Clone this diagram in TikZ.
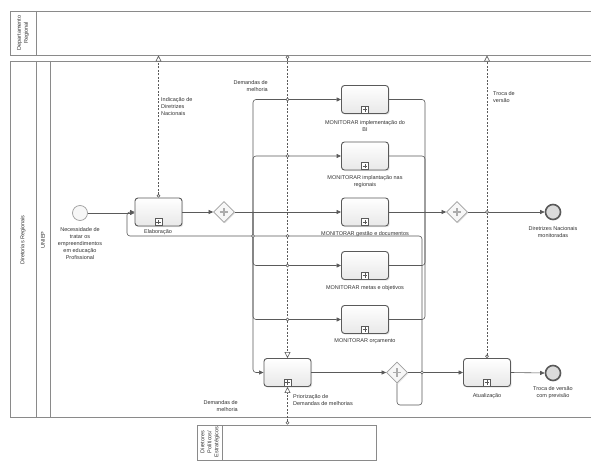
\documentclass[tikz,border=0pt]{standalone}
\usepackage{fontspec}
\setmainfont{Liberation Sans}
\usetikzlibrary{arrows.meta,shapes.geometric,shadows,calc}
\definecolor{ln}{HTML}{5A5A5A}
\definecolor{pl}{HTML}{8A8A8A}
\definecolor{tx}{HTML}{333333}
\begin{document}
\begin{tikzpicture}[x=1pt,y=-1pt,
  every node/.style={font=\fontsize{5.5}{7}\selectfont, text=tx},
  taskbox/.style={rectangle, rounded corners=3pt, draw=ln, line width=0.9pt, minimum width=47pt, minimum height=28pt, inner sep=0pt, top color=white, bottom color=gray!18, drop shadow={opacity=0.2,shadow xshift=1.2pt,shadow yshift=-1.2pt}},
  mk/.style={rectangle, draw=ln, line width=0.6pt, minimum size=7pt, inner sep=0pt, fill=white,
    path picture={\draw[line width=0.7pt,ln] ([xshift=-2.3pt]path picture bounding box.center) -- ([xshift=2.3pt]path picture bounding box.center);
                  \draw[line width=0.7pt,ln] ([yshift=-2.3pt]path picture bounding box.center) -- ([yshift=2.3pt]path picture bounding box.center);}},
  gw/.style={diamond, draw=gray!75, line width=0.7pt, fill=gray!6, minimum width=21pt, minimum height=21pt, inner sep=0pt, drop shadow={opacity=0.2,shadow xshift=1pt,shadow yshift=-1pt},
    path picture={\draw[line width=1.8pt,gray!65] ([xshift=-4.2pt]path picture bounding box.center) -- ([xshift=4.2pt]path picture bounding box.center);
                  \draw[line width=1.8pt,gray!65] ([yshift=-4.2pt]path picture bounding box.center) -- ([yshift=4.2pt]path picture bounding box.center);}},
  startev/.style={circle, draw=gray!75, line width=0.7pt, fill=gray!6, minimum size=15pt, inner sep=0pt},
  endev/.style={circle, draw=ln, line width=1.6pt, fill=gray!28, minimum size=15pt, inner sep=0pt, drop shadow={opacity=0.2,shadow xshift=1pt,shadow yshift=-1pt}},
  lbl/.style={align=center, inner sep=0pt},
  flow/.style={draw=ln, line width=0.6pt, rounded corners=3pt, -{Triangle[length=4.5pt,width=4pt]}},
  fl/.style={draw=ln, line width=0.6pt, rounded corners=3pt},
  msg/.style={draw=ln, line width=0.6pt, dash pattern=on 2pt off 1.5pt, {Circle[open,length=3.5pt,width=3.5pt]}-{Triangle[open,length=6pt,width=6pt]}},
  pool/.style={draw=pl, line width=0.8pt},
  hop/.style={circle, draw=ln, line width=0.4pt, fill=white, minimum size=3pt, inner sep=0pt}
]
\useasboundingbox[fill=white] (0,0) rectangle (591,462);

% pools
\draw[pool] (591,11) -- (10,11) -- (10,55) -- (591,55);
\draw[pool] (36,11) -- (36,55);
\draw[pool] (591,61) -- (10,61) -- (10,417) -- (591,417);
\draw[pool] (36,61) -- (36,417);
\draw[pool] (50,61) -- (50,417);
\draw[pool] (197,425) rectangle (376,460);
\draw[pool] (222,425) -- (222,460);

\node[lbl, rotate=90] (lp1) at (23,33) {Departamento\\Regional};
\node[lbl, rotate=90] (lp2) at (23,240) {Diretorias Regionais};
\node[lbl, rotate=90] (lp3) at (43,240) {UNIEP};
\node[lbl, rotate=90] (lp4) at (210,442) {Diretores\\Políticos/\\Estratégicos};

% events
\node[startev] (st) at (80,213) {};
\node[lbl, anchor=north] (stl) at (80,227) {Necessidade de\\tratar os\\empreendimentos\\em educação\\Profissional};
\node[endev] (e1) at (553,212) {};
\node[lbl] (e1l) at (553,232) {Diretrizes Nacionais\\monitoradas};
\node[endev] (e2) at (553,373) {};
\node[lbl] (e2l) at (553,393) {Troca de versão\\com previsão};

% tasks
\node[taskbox] (el) at (158.5,212) {};
\node[mk] (elm) at ($(el.south)+(0,-4.5)$) {};
\node[lbl] (ell) at (158,232) {Elaboração};

\node[taskbox] (t1) at (365,99.5) {};
\node[mk] (t1m) at ($(t1.south)+(0,-4.5)$) {};
\node[lbl] (t1l) at (365,126) {MONITORAR implementação do\\BI};

\node[taskbox] (t2) at (365,156) {};
\node[mk] (t2m) at ($(t2.south)+(0,-4.5)$) {};
\node[lbl] (t2l) at (365,182) {MONITORAR implantação nas\\regionais};

\node[taskbox] (t3) at (365,212) {};
\node[mk] (t3m) at ($(t3.south)+(0,-4.5)$) {};
\node[lbl] (t3l) at (365,234) {MONITORAR gestão e documentos};

\node[taskbox] (t4) at (365,265.5) {};
\node[mk] (t4m) at ($(t4.south)+(0,-4.5)$) {};
\node[lbl] (t4l) at (365,288) {MONITORAR metas e objetivos};

\node[taskbox] (t5) at (365,319.5) {};
\node[mk] (t5m) at ($(t5.south)+(0,-4.5)$) {};
\node[lbl] (t5l) at (365,341) {MONITORAR orçamento};

\node[taskbox] (pr) at (287.5,372.5) {};
\node[mk] (prm) at ($(pr.south)+(0,-4.5)$) {};
\node[lbl, align=left, anchor=west] (prl) at (293,400) {Priorização de\\Demandas de melhorias};

\node[taskbox] (at) at (487,372.5) {};
\node[mk] (atm) at ($(at.south)+(0,-4.5)$) {};
\node[lbl] (atl) at (487,396) {Atualização};

% gateways
\node[gw] (gw1) at (224,212) {};
\node[gw] (gwj) at (457,212) {};
\node[gw] (gw2) at (397,372.5) {};

% coordinates
\coordinate (br) at (253,212);
\coordinate (jn) at (425,212);
\coordinate (lpa) at (422,405);
\coordinate (lpb) at (422,236);
\coordinate (lpc) at (127,212);
\coordinate (tp1) at (158.5,55.5);
\coordinate (tp2) at (287.5,55.5);
\coordinate (tp3) at (487,55.5);
\coordinate (bp) at (287.5,424.5);

% sequence flows
\draw[flow] (st.east) -- (st.east -| el.west);
\draw[flow] (el.east) -- (gw1.west);
\draw[flow] (gw1.east) -- (t3.west);
\draw[flow] (br) |- (t1.west);
\draw[flow] (br) |- (t2.west);
\draw[flow] (br) |- (t4.west);
\draw[flow] (br) |- (t5.west);
\draw[flow] (br) |- (pr.west);
\draw[fl] (t1.east) -| (jn);
\draw[fl] (t2.east) -| (jn);
\draw[fl] (t4.east) -| (jn);
\draw[fl] (t5.east) -| (jn);
\draw[flow] (t3.east) -- (gwj.west);
\draw[flow] (gwj.east) -- (e1.west);
\draw[flow] (pr.east) -- (gw2.west);
\draw[flow] (gw2.east) -- (at.west);
\draw[flow] (at.east) -- (e2.west);
\draw[flow] (gw2.south) |- (lpa) -- (lpb) -| (lpc) -- (el.west);

% message flows
\draw[msg] (el.north) -- (tp1);
\draw[msg] (tp2) -- (pr.north);
\draw[msg] (bp) -- (pr.south);
\draw[msg] (at.north) -- (tp3);

\node[lbl, align=right, anchor=east] (ml1) at (268,86) {Demandas de\\melhoria};
\node[lbl, align=left, anchor=west] (ml2) at (161,107) {Indicação de\\Diretrizes\\Nacionais};
\node[lbl, align=left, anchor=west] (ml3) at (493,97) {Troca de\\versão};
\node[lbl, align=right, anchor=east] (ml4) at (238,406) {Demandas de\\melhoria};

% hops
\node[hop] (h1) at (287.5,99.5) {};
\node[hop] (h2) at (287.5,156) {};
\node[hop] (h3) at (287.5,265.5) {};
\node[hop] (h4) at (287.5,319.5) {};
\node[hop] (h5) at (253,236) {};
\node[hop] (h6) at (487,212) {};
\node[hop] (h7) at (422,372.5) {};
\node[hop] (h8) at (287.5,236) {};
\end{tikzpicture}
\end{document}
